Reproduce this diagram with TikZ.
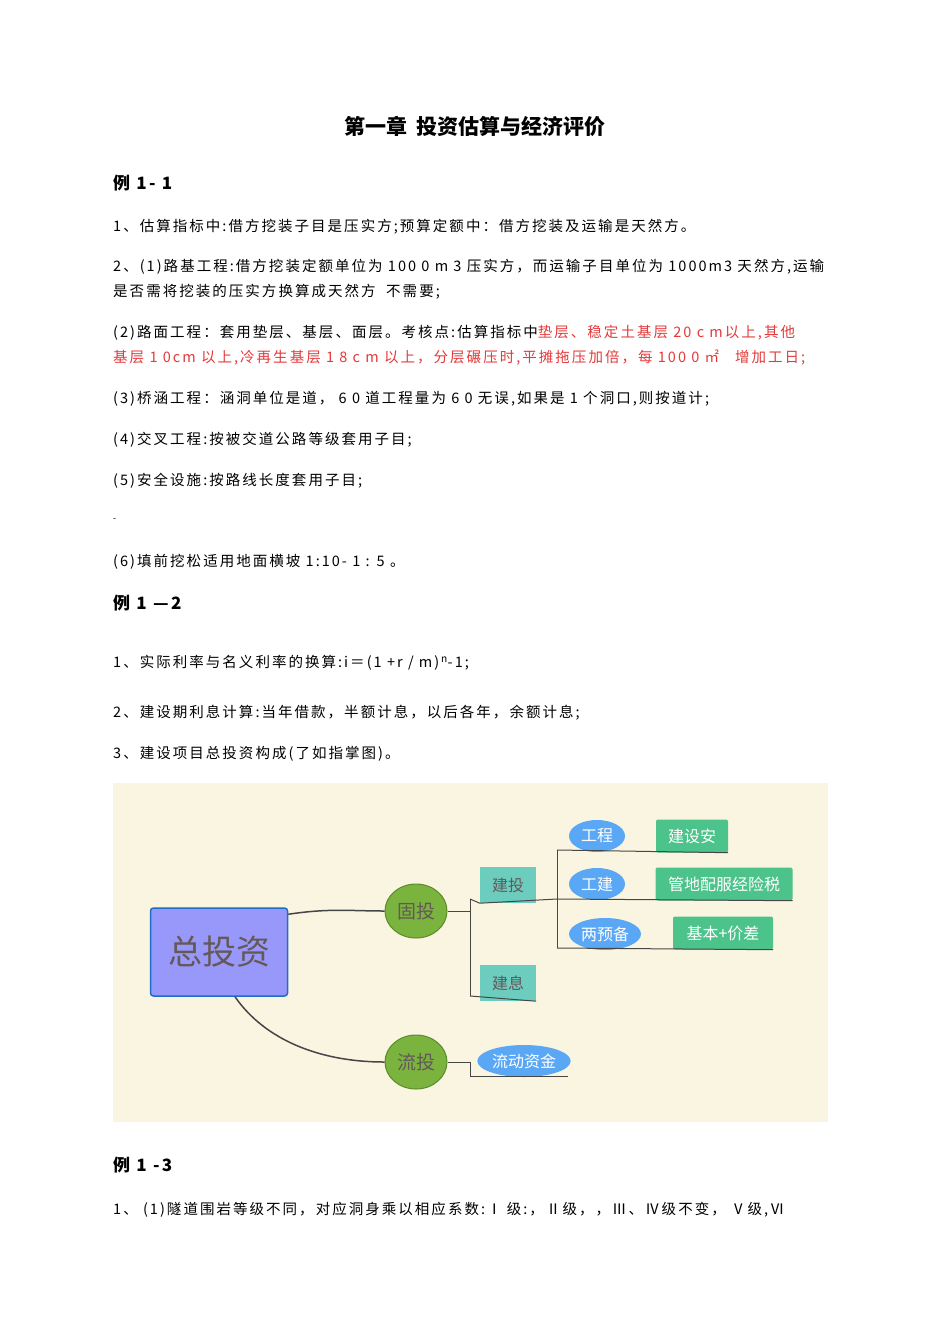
\documentclass[tikz,border=0pt]{standalone}
\usepackage{fontspec}
\setmainfont{Noto Sans CJK SC}[LetterSpace=14]
\newfontfamily\mapfont{Noto Sans CJK SC}
\usetikzlibrary{shapes.geometric}
\definecolor{redt}{RGB}{228,58,58}
\definecolor{mmbg}{RGB}{250,245,225}
\definecolor{rootf}{RGB}{152,152,250}
\definecolor{rootb}{RGB}{30,110,200}
\definecolor{grn}{RGB}{122,180,62}
\definecolor{grnb}{RGB}{90,140,40}
\definecolor{teal}{RGB}{108,204,190}
\definecolor{blu}{RGB}{90,168,245}
\definecolor{gbox}{RGB}{76,195,138}
\definecolor{txtg}{RGB}{100,88,88}
\definecolor{ln}{RGB}{70,70,70}
\tikzset{
 x=1pt,y=-1pt,
 body/.style={anchor=west,inner sep=0,font=\fontsize{14.5}{16}\selectfont},
 head/.style={anchor=west,inner sep=0,font=\fontsize{17}{18}\selectfont\bfseries},
 lvl1/.style={ellipse,fill=grn,draw=grnb,line width=1pt,minimum width=62,minimum height=54,inner sep=0,text=txtg,font=\mapfont\fontsize{19}{20}\selectfont},
 lvl2/.style={rectangle,fill=teal,minimum width=56,minimum height=36,inner sep=0,text=txtg,font=\mapfont\fontsize{16}{17}\selectfont},
 bell/.style={ellipse,fill=blu,minimum height=32,inner sep=1,text=white,font=\mapfont\fontsize{16}{17}\selectfont},
 gb/.style={rectangle,rounded corners=2,fill=gbox,minimum height=33,inner sep=4,text=white,font=\mapfont\fontsize{16}{17}\selectfont},
 con/.style={draw=ln,line width=1.5pt},
 thin/.style={draw=ln,line width=1pt}
}
\begin{document}
\begin{tikzpicture}
\useasboundingbox (0,0) rectangle (950,1344);
\fill[white] (0,0) rectangle (950,1344);
\node[anchor=center,inner sep=0,font=\mapfont\fontsize{21}{22}\selectfont\bfseries] (title) at (475,126) {第一章\ \ 投资估算与经济评价};
\node[head] (h1) at (113,183) {例 1- 1};
\node[body] (l1) at (113,227) {1、估算指标中:借方挖装子目是压实方;预算定额中：借方挖装及运输是天然方。};
\node[body] (l2) at (113,267) {2、(1)路基工程:借方挖装定额单位为 100 0 m 3 压实方，而运输子目单位为 1000m3 天然方,运输};
\node[body] (l3) at (113,292) {是否需将挖装的压实方换算成天然方\ \ 不需要;};
\node[body] (l4) at (113,333) {(2)路面工程：套用垫层、基层、面层。考核点:估算指标中\textcolor{redt}{垫层、稳定土基层 20 c m以上,其他}};
\node[body,text=redt] (l5) at (113,358) {基层 1 0cm 以上,冷再生基层 1 8 c m 以上，分层碾压时,平摊拖压加倍，每 100 0 ㎡\ \ \ 增加工日;};
\node[body] (l6) at (113,399) {(3)桥涵工程：涵洞单位是道， 6 0 道工程量为 6 0 无误,如果是 1 个洞口,则按道计;};
\node[body] (l7) at (113,440) {(4)交叉工程:按被交道公路等级套用子目;};
\node[body] (l8) at (113,481) {(5)安全设施:按路线长度套用子目;};
\node[body,font=\fontsize{9}{10}\selectfont] (l9) at (113,520) {-};
\node[body] (l10) at (113,562) {(6)填前挖松适用地面横坡 1:10- 1 : 5 。};
\node[head] (h2) at (113,603) {例 1 —2};
\node[body] (m1) at (113,663) {1、实际利率与名义利率的换算:i＝(1 +r / m)$^{\,\mathrm{n}}$-1;};
\node[body] (m2) at (113,713) {2、建设期利息计算:当年借款，半额计息，以后各年，余额计息;};
\node[body] (m3) at (113,754) {3、建设项目总投资构成(了如指掌图)。};
\node[head] (h3) at (113,1165) {例 1 -3};
\node[body] (n1) at (113,1210) {1、 (1)隧道围岩等级不同，对应洞身乘以相应系数:Ⅰ 级:，Ⅱ级，，Ⅲ、Ⅳ级不变， Ⅴ级,Ⅵ};
% mind map
\fill[mmbg] (113,783) rectangle (828,1122);
\node[rectangle,rounded corners=3,fill=rootf,draw=rootb,line width=1.5pt,minimum width=137,minimum height=88,text=txtg,font=\mapfont\fontsize{34}{36}\selectfont] (root) at (219,952) {总投资};
\node[lvl1] (gt) at (416,911) {固投};
\node[lvl1] (lt) at (416,1062) {流投};
\node[lvl2] (jt) at (508,885) {建投};
\node[lvl2] (jx) at (508,983) {建息};
\node[bell,minimum width=56] (gc) at (597,836) {工程};
\node[bell,minimum width=56] (gj) at (597,884) {工建};
\node[bell,minimum width=72] (lyb) at (605,934) {两预备};
\node[bell,minimum width=86] (ldzj) at (524,1061) {流动资金};
\node[gb,minimum width=72] (jsa) at (692,836) {建设安};
\node[gb,minimum width=137] (gd) at (724,884) {管地配服经险税};
\node[gb,minimum width=100] (jb) at (723,933) {基本+价差};
\draw[con] (root.north east)++(0,7) .. controls (330,908) and (350,911) .. (gt.west);
\draw[con] (root.south)++(16,0) .. controls (265,1040) and (320,1062) .. (lt.west);
\draw[thin] (gt.east) -- (470,911);
\draw[thin] (470,899) -- (470,996);
\draw[thin] (470,899) -- (jt.south west) -- (557,899);
\draw[thin] (470,996) -- (jx.south east);
\draw[thin] (557,850) -- (557,948);
\draw[thin] (557,850) -- (jsa.south east);
\draw[thin] (557,899) -- (gd.south east);
\draw[thin] (557,948) -- (jb.south east);
\draw[thin] (lt.east) -- (470,1062) -- (470,1076) -- (568,1076);
\end{tikzpicture}
\end{document}
